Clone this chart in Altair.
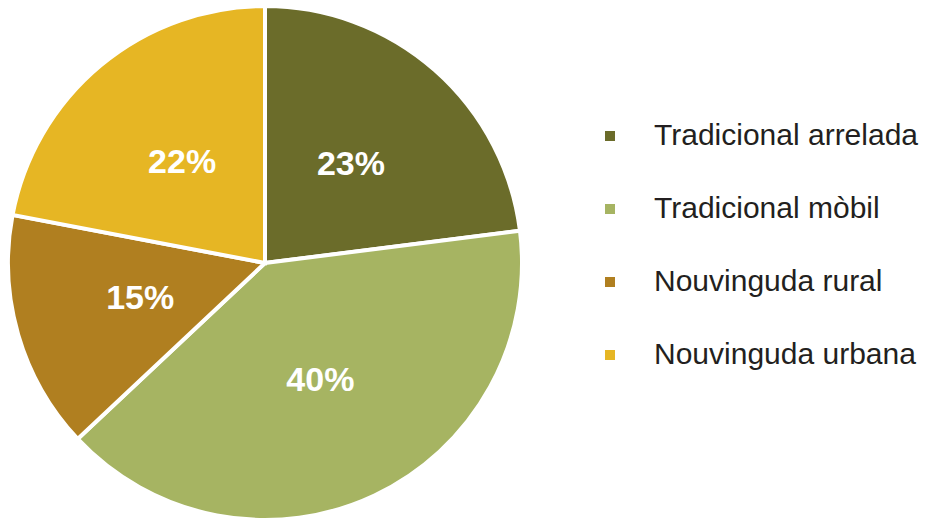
import altair as alt
import pandas as pd

categories = ["Tradicional arrelada", "Tradicional mòbil", "Nouvinguda rural", "Nouvinguda urbana"]
shares = [23, 40, 15, 22]
labels = ["23%", "40%", "15%", "22%"]
colors = ["#6b6c2a", "#a6b462", "#b07f20", "#e6b624"]

df = pd.DataFrame({"cat": categories, "share": shares, "label": labels, "ord": list(range(len(categories)))})

CX, CY, R = 265, 263, 257

base = alt.Chart(df).encode(
    theta=alt.Theta("share:Q", stack=True),
    order=alt.Order("ord:Q"),
)

pie = base.mark_arc(outerRadius=R, stroke="white", strokeWidth=4).encode(
    x=alt.value(CX),
    y=alt.value(CY),
    color=alt.Color(
        "cat:N",
        scale=alt.Scale(domain=categories, range=colors),
        sort=categories,
        legend=alt.Legend(
            title=None,
            orient="none",
            legendX=595,
            legendY=121,
            symbolType="square",
            symbolSize=100,
            symbolStrokeWidth=0,
            labelFontSize=30,
            labelFont="Liberation Sans",
            labelColor="#231f20",
            labelOffset=29,
            rowPadding=43,
            labelLimit=400,
        ),
    ),
)

text = base.mark_text(
    radius=130, font="Liberation Sans", fontSize=34, fontWeight="bold", color="white"
).encode(
    x=alt.value(CX),
    y=alt.value(CY),
    text="label:N",
)

chart = (pie + text).properties(
    width=930, height=520, autosize=alt.AutoSizeParams(type="none"), padding=0
).configure_view(stroke=None)

chart.save("out.html", embed_options={"renderer": "svg", "actions": False})
